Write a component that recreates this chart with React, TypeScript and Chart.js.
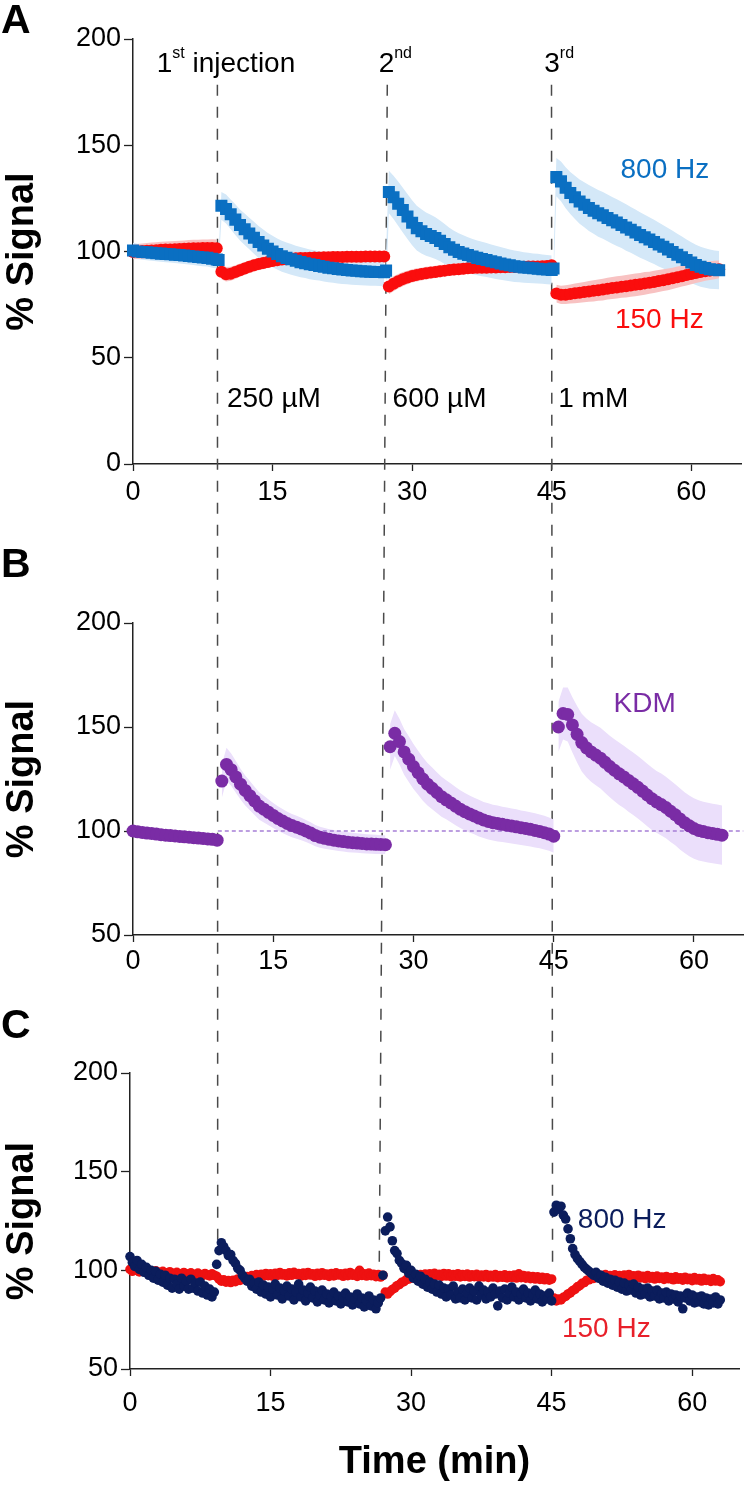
import React, { useEffect, useRef } from "react";
import { Chart, registerables } from "chart.js";

Chart.register(...registerables);

const FAMILY = '"Liberation Sans", Arial, Helvetica, sans-serif';
Chart.defaults.font.family = FAMILY;

// ---------- time grid (min) of each averaged segment between injections (panels A, B) ----------
const T_SEG1 = [0, 0.5, 1, 1.5, 2, 2.5, 3, 3.5, 4, 4.5, 5, 5.5, 6, 6.5, 7, 7.5, 8, 8.5, 9];
const T_SEG2 = [9.5, 10, 10.5, 11, 11.5, 12, 12.5, 13, 13.5, 14, 14.5, 15, 15.5, 16, 16.5, 17, 17.5, 18, 18.5, 19, 19.5, 20, 20.5, 21, 21.5, 22, 22.5, 23, 23.5, 24, 24.5, 25, 25.5, 26, 26.5, 27];
const T_SEG3 = [27.5, 28, 28.5, 29, 29.5, 30, 30.5, 31, 31.5, 32, 32.5, 33, 33.5, 34, 34.5, 35, 35.5, 36, 36.5, 37, 37.5, 38, 38.5, 39, 39.5, 40, 40.5, 41, 41.5, 42, 42.5, 43, 43.5, 44, 44.5, 45];
const T_SEG4 = [45.5, 46, 46.5, 47, 47.5, 48, 48.5, 49, 49.5, 50, 50.5, 51, 51.5, 52, 52.5, 53, 53.5, 54, 54.5, 55, 55.5, 56, 56.5, 57, 57.5, 58, 58.5, 59, 59.5, 60, 60.5, 61, 61.5, 62, 62.5, 63];
const SEG_T = [T_SEG1, T_SEG2, T_SEG3, T_SEG4];

// ---------- time grid (min) of the single-sensor recording (panel C) ----------
const TC_SEG1 = [0, 0.25, 0.5, 0.75, 1, 1.25, 1.5, 1.75, 2, 2.25, 2.5, 2.75, 3, 3.25, 3.5, 3.75, 4, 4.25, 4.5, 4.75, 5, 5.25, 5.5, 5.75, 6, 6.25, 6.5, 6.75, 7, 7.25, 7.5, 7.75, 8, 8.25, 8.5, 8.75, 9];
const TC_SEG2 = [9.25, 9.5, 9.75, 10, 10.25, 10.5, 10.75, 11, 11.25, 11.5, 11.75, 12, 12.25, 12.5, 12.75, 13, 13.25, 13.5, 13.75, 14, 14.25, 14.5, 14.75, 15, 15.25, 15.5, 15.75, 16, 16.25, 16.5, 16.75, 17, 17.25, 17.5, 17.75, 18, 18.25, 18.5, 18.75, 19, 19.25, 19.5, 19.75, 20, 20.25, 20.5, 20.75, 21, 21.25, 21.5, 21.75, 22, 22.25, 22.5, 22.75, 23, 23.25, 23.5, 23.75, 24, 24.25, 24.5, 24.75, 25, 25.25, 25.5, 25.75, 26, 26.25, 26.5, 26.75, 27];
const TC_SEG3 = [27.25, 27.5, 27.75, 28, 28.25, 28.5, 28.75, 29, 29.25, 29.5, 29.75, 30, 30.25, 30.5, 30.75, 31, 31.25, 31.5, 31.75, 32, 32.25, 32.5, 32.75, 33, 33.25, 33.5, 33.75, 34, 34.25, 34.5, 34.75, 35, 35.25, 35.5, 35.75, 36, 36.25, 36.5, 36.75, 37, 37.25, 37.5, 37.75, 38, 38.25, 38.5, 38.75, 39, 39.25, 39.5, 39.75, 40, 40.25, 40.5, 40.75, 41, 41.25, 41.5, 41.75, 42, 42.25, 42.5, 42.75, 43, 43.25, 43.5, 43.75, 44, 44.25, 44.5, 44.75, 45];
const TC_SEG4 = [45.25, 45.5, 45.75, 46, 46.25, 46.5, 46.75, 47, 47.25, 47.5, 47.75, 48, 48.25, 48.5, 48.75, 49, 49.25, 49.5, 49.75, 50, 50.25, 50.5, 50.75, 51, 51.25, 51.5, 51.75, 52, 52.25, 52.5, 52.75, 53, 53.25, 53.5, 53.75, 54, 54.25, 54.5, 54.75, 55, 55.25, 55.5, 55.75, 56, 56.25, 56.5, 56.75, 57, 57.25, 57.5, 57.75, 58, 58.25, 58.5, 58.75, 59, 59.25, 59.5, 59.75, 60, 60.25, 60.5, 60.75, 61, 61.25, 61.5, 61.75, 62, 62.25, 62.5, 62.75, 63];
const SEG_TC = [TC_SEG1, TC_SEG2, TC_SEG3, TC_SEG4];

// ---------- axes ----------
const X_TICKS = [0, 15, 30, 45, 60];
const Y_TICKS_A = [0, 50, 100, 150, 200];
const Y_TICKS_BC = [50, 100, 150, 200];

// ---------- injections (dashed guides) ----------
const INJ_T_TOP = [9.07, 27.33, 44.98]; // panel A time where guides start
const INJ_V_TOP = 178.5; // panel A value where guides start
const INJ_T_END = [9.36, 26.6, 45.1]; // panel C time where guides end
const INJ_V_END = [115.4, 100.2, 101]; // panel C value where guides end

// ---------- Panel A : 800 Hz (mean, SEM) ----------
const A800 = [
  [100.5, 100, 99.8, 99.6, 99.4, 99.2, 99, 98.8, 98.7, 98.5, 98.3, 98.1, 97.9, 97.6, 97.4, 97.2, 97, 96.6, 96.2],
  [121.5, 120, 117.5, 115, 112.5, 110.5, 108.5, 106.5, 104.5, 102.8, 101.3, 100, 98.8, 97.8, 97, 96.3, 95.6, 95, 94.5, 94, 93.6, 93.2, 92.8, 92.4, 92.1, 91.8, 91.5, 91.3, 91.1, 90.9, 90.7, 90.6, 90.5, 90.4, 90.3, 90.2],
  [128, 125.5, 122.5, 119.5, 116.5, 113.5, 111, 109.5, 108.2, 107.3, 106.3, 105, 103.5, 102, 100.8, 99.8, 99, 98.3, 97.6, 97, 96.5, 96, 95.4, 94.9, 94.4, 93.9, 93.5, 93.1, 92.8, 92.5, 92.3, 92.1, 91.9, 91.7, 91.5, 91.3],
  [135, 133, 130, 127.5, 125.5, 123.5, 122, 120.5, 119.2, 118, 117, 115.8, 114.7, 113.6, 112.5, 111.3, 110.2, 109, 107.8, 106.7, 105.6, 104.5, 103.3, 102.2, 101, 99.8, 98.5, 97.3, 96, 94.8, 93.7, 92.8, 92.2, 91.7, 91.4, 91.2],
];
const A800_SEM = [
  [3.6, 3.6, 3.7, 3.7, 3.8, 3.8, 3.8, 3.9, 3.9, 3.9, 4, 4, 4, 4, 4.1, 4.1, 4.1, 4.2, 4.2],
  [6.5, 6.8, 7, 7.2, 7.3, 7.4, 7.4, 7.5, 7.5, 7.5, 7.4, 7.4, 7.3, 7.3, 7.2, 7.2, 7.1, 7.1, 7, 7, 7, 6.9, 6.9, 6.9, 6.8, 6.8, 6.8, 6.7, 6.7, 6.7, 6.6, 6.6, 6.6, 6.5, 6.5, 6.5],
  [10, 10.2, 10.4, 10.5, 10.6, 10.6, 10.5, 10.4, 10.2, 10, 9.8, 9.6, 9.4, 9.2, 9, 8.8, 8.6, 8.4, 8.3, 8.2, 8.1, 8, 7.9, 7.8, 7.7, 7.6, 7.5, 7.4, 7.3, 7.2, 7.1, 7, 7, 6.9, 6.9, 6.8],
  [9, 9.3, 9.6, 9.9, 10.2, 10.4, 10.6, 10.8, 10.9, 11, 11, 11, 11, 11, 10.9, 10.9, 10.8, 10.8, 10.7, 10.6, 10.5, 10.4, 10.3, 10.2, 10.1, 10, 9.9, 9.8, 9.7, 9.6, 9.5, 9.4, 9.3, 9.2, 9.1, 9],
];
// first (transition) sample recorded right after each injection, before the jump
const A800_LEAD_T = [9.2, 27.2, 45.2];
const A800_LEAD = [96, 91, 92];
const A800_LEAD_SEM = [3, 10, 6];

// ---------- Panel A : 150 Hz (mean, SEM) ----------
const A150 = [
  [99.8, 100, 100.2, 100.4, 100.5, 100.6, 100.8, 100.9, 101, 101.1, 101.2, 101.3, 101.4, 101.5, 101.5, 101.6, 101.6, 101.7, 101.5],
  [90.5, 89.3, 89.5, 90.3, 91.2, 92, 92.8, 93.5, 94.1, 94.6, 95.1, 95.5, 95.9, 96.2, 96.4, 96.6, 96.8, 96.9, 97, 97.1, 97.2, 97.2, 97.3, 97.3, 97.4, 97.4, 97.4, 97.5, 97.5, 97.5, 97.5, 97.6, 97.6, 97.6, 97.7, 97.7],
  [83.5, 84.8, 86, 87, 87.8, 88.5, 89, 89.4, 89.8, 90.1, 90.4, 90.7, 91, 91.3, 91.5, 91.7, 91.9, 92.1, 92.2, 92.3, 92.4, 92.4, 92.5, 92.5, 92.6, 92.6, 92.7, 92.7, 92.8, 92.8, 92.9, 93, 93, 93.1, 93.2, 93.5],
  [80.2, 79.6, 79.7, 80, 80.3, 80.6, 80.9, 81.2, 81.5, 81.8, 82.1, 82.5, 82.8, 83.1, 83.4, 83.7, 84, 84.3, 84.6, 85, 85.3, 85.7, 86.1, 86.5, 86.9, 87.4, 87.9, 88.4, 88.9, 89.4, 89.9, 90.3, 90.7, 91, 91.3, 91.6],
];
const A150_SEM = [
  [3.5, 3.5, 3.6, 3.6, 3.7, 3.7, 3.8, 3.8, 3.8, 3.9, 3.9, 3.9, 4, 4, 4, 4, 4.1, 4.1, 4.1],
  [3.5, 3.4, 3.3, 3.2, 3.1, 3.1, 3, 3, 2.9, 2.9, 2.9, 2.8, 2.8, 2.8, 2.7, 2.7, 2.7, 2.7, 2.7, 2.6, 2.6, 2.6, 2.6, 2.6, 2.6, 2.5, 2.5, 2.5, 2.5, 2.5, 2.5, 2.5, 2.5, 2.5, 2.5, 2.5],
  [3.6, 3.5, 3.4, 3.3, 3.2, 3.1, 3.1, 3, 3, 2.9, 2.9, 2.9, 2.8, 2.8, 2.8, 2.8, 2.7, 2.7, 2.7, 2.7, 2.7, 2.6, 2.6, 2.6, 2.6, 2.6, 2.6, 2.6, 2.6, 2.6, 2.6, 2.6, 2.6, 2.6, 2.6, 2.7],
  [4.2, 4.3, 4.4, 4.5, 4.6, 4.7, 4.8, 4.9, 5, 5, 5.1, 5.1, 5.2, 5.2, 5.2, 5.3, 5.3, 5.3, 5.3, 5.3, 5.2, 5.2, 5.2, 5.1, 5.1, 5, 5, 4.9, 4.9, 4.8, 4.7, 4.6, 4.5, 4.4, 4.3, 4.2],
];

// ---------- Panel B : KDM (mean, SEM) ----------
const KDM = [
  [100, 99.6, 99.3, 99, 98.8, 98.5, 98.2, 98, 97.8, 97.6, 97.4, 97.2, 97, 96.8, 96.6, 96.4, 96.2, 96, 95.6],
  [124, 132, 129.5, 126, 122.5, 119.5, 117, 114.5, 112, 110.5, 109, 107.5, 106, 104.8, 103.6, 102.6, 101.8, 101, 100, 99, 97.8, 97, 96.5, 96, 95.6, 95.2, 94.9, 94.6, 94.4, 94.2, 94, 93.8, 93.7, 93.6, 93.5, 93.4],
  [140.5, 147, 143, 138, 134.5, 131, 128, 125, 122.5, 120.5, 118.5, 116.5, 115, 113.5, 112, 110.5, 109.3, 108.2, 107.2, 106.2, 105.3, 104.6, 104, 103.6, 103.2, 102.8, 102.4, 102, 101.6, 101.2, 100.8, 100.3, 99.8, 99.2, 98.5, 97.5],
  [150, 156.5, 156, 151, 146.5, 142.5, 140, 138, 136.5, 135, 133, 131, 129.2, 127.5, 126, 124.3, 122.7, 121, 119.2, 117.3, 115.5, 114, 112.7, 111.3, 109.5, 107.8, 105.8, 104, 102.5, 101.2, 100.3, 99.7, 99.2, 98.8, 98.4, 98],
];
const KDM_SEM = [
  [2.5, 2.5, 2.5, 2.6, 2.6, 2.6, 2.7, 2.7, 2.7, 2.8, 2.8, 2.8, 2.9, 2.9, 2.9, 3, 3, 3, 3],
  [8, 8, 7.8, 7.6, 7.4, 7.2, 7, 6.8, 6.6, 6.4, 6.2, 6, 5.9, 5.8, 5.7, 5.6, 5.5, 5.4, 5.3, 5.2, 5.1, 5, 5, 4.9, 4.9, 4.8, 4.8, 4.8, 4.7, 4.7, 4.7, 4.6, 4.6, 4.6, 4.5, 4.5],
  [11, 11, 11, 11, 11, 10.8, 10.6, 10.4, 10.2, 10, 9.8, 9.6, 9.4, 9.3, 9.2, 9.1, 9, 8.9, 8.8, 8.8, 8.7, 8.7, 8.6, 8.6, 8.5, 8.5, 8.4, 8.4, 8.3, 8.3, 8.2, 8.2, 8.1, 8.1, 8, 8],
  [12, 12.5, 13, 13.3, 13.6, 13.9, 14.1, 14.3, 14.5, 14.6, 14.7, 14.8, 14.9, 15, 15, 15, 15, 15, 15, 15, 15, 14.9, 14.9, 14.8, 14.8, 14.7, 14.7, 14.6, 14.6, 14.5, 14.5, 14.4, 14.4, 14.3, 14.3, 14.2],
];
const KDM_BASELINE = 100;

// ---------- Panel C : single sensor, 800 Hz ----------
const C800 = [
  [107, 104, 102, 105, 100.5, 103, 99, 101.5, 97.5, 100, 96, 99.5, 95, 98, 94, 97.5, 92.5, 96, 91, 95.5, 93, 90.5, 96, 92, 94.5, 90.5, 95.5, 91, 93.5, 89.5, 94, 88.5, 92, 87.5, 90.5, 86.5, 89],
  [103, 110, 114, 112, 110, 107.5, 108, 105, 103.5, 101, 100, 97.5, 96, 94.5, 95.5, 92, 93.5, 90.5, 94, 89, 92.5, 88, 91.5, 86.5, 90.5, 93, 87.5, 91, 85.5, 89.5, 92, 87, 90.5, 85, 89, 93, 86.5, 90, 84.5, 88.5, 91.5, 86, 89.5, 84, 87.5, 90, 85, 88, 83.5, 86.5, 89, 84.5, 87, 83, 86, 88.5, 84, 86.5, 82.5, 85.5, 88, 83, 86, 81.5, 84.5, 87, 82, 85, 80.5, 83.5, 86, 97.5],
  [120, 127, 122, 115, 110, 108.5, 105, 103.5, 101, 102.5, 98.5, 100, 96, 98, 94.5, 97, 93, 95.5, 91.5, 94, 90.5, 93, 89, 92.5, 88, 91, 86.5, 90.5, 87.5, 92, 85.5, 89, 86, 90.5, 85, 88.5, 91, 86, 89.5, 85, 92, 87.5, 90, 85.5, 89, 86.5, 91, 88, 82, 89.5, 86, 90.5, 85, 88.5, 91.5, 86.5, 89, 85, 88, 90.5, 86, 88.5, 84.5, 87.5, 90, 85.5, 88, 84, 87, 85.5, 88.5, 84.5],
  [129.5, 133, 131, 132.5, 128, 126, 121, 116, 111, 108, 106, 104.5, 103, 101.5, 100.5, 99.5, 98.5, 97.5, 99, 96, 97.5, 94.5, 96.5, 93.5, 95.5, 92.5, 95, 91.5, 94, 90.5, 93.5, 89.5, 92.5, 90, 93, 88.5, 91.5, 87.5, 90.5, 88, 91, 86.5, 89.5, 87, 90, 85.5, 88.5, 86, 89, 84.5, 88, 85.5, 87.5, 84, 87, 80.5, 86, 88.5, 84.5, 87.5, 83.5, 86.5, 84, 87, 83, 86, 82.5, 85.5, 83.5, 86.5, 83, 85],
];
// ---------- Panel C : single sensor, 150 Hz ----------
const C150 = [
  [100.5, 99.5, 101, 100, 99.2, 100.4, 99.6, 98.8, 100, 99.2, 98.6, 99.8, 99, 98.4, 99.5, 98.7, 98.2, 99.3, 98.5, 97.9, 99, 98.3, 97.8, 98.9, 98.2, 97.6, 98.7, 98, 97.5, 98.6, 97.9, 97.3, 98.4, 97.7, 97.2, 98.2, 97.5],
  [97, 95.5, 94.5, 95.2, 94, 94.8, 93.8, 95, 94.3, 95.6, 94.9, 96.3, 95.5, 96.8, 96, 97.3, 96.5, 97.8, 96.9, 98, 97.1, 98.4, 97.3, 98.2, 97, 98.5, 97.4, 98.9, 97.6, 98.3, 97.2, 98.7, 97.5, 99, 97.8, 98.4, 97.1, 98.6, 97.4, 98.9, 97.6, 98.2, 97, 98.5, 97.3, 98.8, 97.5, 98.1, 96.9, 98.4, 97.2, 98.7, 97.6, 98.2, 97, 98.5, 97.3, 98.9, 97.5, 98.1, 96.9, 100, 97.4, 98.3, 97.1, 98.6, 97.3, 98, 96.8, 97.9, 96.6, 97.5],
  [89, 88, 89.2, 90.3, 91, 92.2, 92.8, 93.9, 94.3, 95.3, 95.6, 96.4, 96.1, 97.2, 96.6, 97.8, 96.9, 98.1, 97, 98.3, 97.2, 98.5, 97.3, 98, 96.9, 98.4, 97.1, 98.2, 96.8, 97.9, 97, 98.3, 96.7, 97.8, 96.9, 98.1, 96.6, 97.7, 96.8, 98, 96.5, 97.6, 96.7, 97.9, 96.4, 97.5, 96.6, 97.8, 96.3, 97.4, 96.5, 97.7, 96.2, 97.3, 96.4, 97.6, 96.1, 98.2, 96.3, 97.4, 96, 97.1, 95.8, 96.9, 95.6, 96.7, 95.4, 96.5, 95.2, 96.2, 95, 95.6],
  [86, 84.5, 85.5, 85, 86.3, 86.8, 88, 88.6, 89.7, 90.4, 91.6, 92.2, 93.4, 93.8, 95, 95.2, 96.3, 95.9, 97, 96.3, 97.5, 96.5, 97.8, 96.6, 97.4, 96.2, 97.7, 96.5, 97.3, 96.1, 97.6, 96.4, 97.9, 96.3, 97.2, 96, 97.5, 96.2, 97, 95.8, 97.3, 96, 96.8, 95.6, 97.1, 95.9, 96.6, 95.4, 96.9, 95.7, 96.4, 95.2, 96.7, 95.5, 96.2, 95, 96.5, 95.3, 96, 94.8, 96.3, 95.1, 95.8, 94.6, 96, 94.9, 95.5, 94.4, 95.8, 94.6, 95.2, 94.3],
];

// ---------- colours ----------
const BLUE = "#0a6fc2";
const BLUE_BAND = "#d4e8f8";
const RED = "#fa0d0d";
const RED_BAND = "#f8c2c2";
const PURPLE = "#7a2ca5";
const PURPLE_BAND = "#ebdffb";
const NAVY = "#0b1d5c";
const RED_C = "#ee1111";
const AXIS = "#222";
const GUIDE = "#4a4a4a";

// ---------- page layout ----------
const W = 750;
const LAYOUT = [
  { top: 0, height: 510, padTop: 39, padRight: 2, yWidth: 133, xHeight: 46, xMax: 65.4, yMin: 0, yMax: 200, tickPad: 5, letter: "A", letterY: 33 },
  { top: 510, height: 475, padTop: 113, padRight: 2, yWidth: 133, xHeight: 50, xMax: 65.3, yMin: 50, yMax: 200, tickPad: 3, letter: "B", letterY: 67 },
  { top: 985, height: 501, padTop: 88, padRight: 11, yWidth: 130, xHeight: 117, xMax: 65.0, yMin: 50, yMax: 200, tickPad: 11, letter: "C", letterY: 53 },
];

type Part = { s: string; size: number; rise?: number };
type Note = { parts: Part[]; t: number; v: number; color: string };

const sup = (a: string, b: string): Part[] => [
  { s: a, size: 28 },
  { s: b, size: 16, rise: 14 },
];

const NOTES: Note[][] = [
  [
    { parts: [...sup("1", "st"), { s: " injection", size: 28 }], t: 2.55, v: 184.5, color: "#000" },
    { parts: sup("2", "nd"), t: 26.4, v: 184.5, color: "#000" },
    { parts: sup("3", "rd"), t: 44.2, v: 184.5, color: "#000" },
    { parts: [{ s: "250 µM", size: 28 }], t: 10.1, v: 26.8, color: "#000" },
    { parts: [{ s: "600 µM", size: 28 }], t: 27.9, v: 26.8, color: "#000" },
    { parts: [{ s: "1 mM", size: 28 }], t: 45.7, v: 26.8, color: "#000" },
    { parts: [{ s: "800 Hz", size: 28 }], t: 52.4, v: 134.6, color: BLUE },
    { parts: [{ s: "150 Hz", size: 28 }], t: 51.8, v: 64, color: RED },
  ],
  [{ parts: [{ s: "KDM", size: 28 }], t: 51.4, v: 157.2, color: PURPLE }],
  [
    { parts: [{ s: "800 Hz", size: 28 }], t: 47.8, v: 121.5, color: NAVY },
    { parts: [{ s: "150 Hz", size: 28 }], t: 46.1, v: 66.2, color: "#e8202a" },
  ],
];

// ---------- helpers ----------
type Lead = { t: number[]; v: number[]; sem: number[] };

function series(times: number[][], values: number[][], sem?: number[][], sign = 0, lead?: Lead) {
  const out: { x: number; y: number | null }[] = [];
  times.forEach((ts, s) => {
    if (s > 0) {
      const prev = times[s - 1];
      const gapX = lead ? (prev[prev.length - 1] + lead.t[s - 1]) / 2 : (prev[prev.length - 1] + ts[0]) / 2;
      out.push({ x: gapX, y: null });
      if (lead) {
        const v = lead.v[s - 1];
        out.push({ x: lead.t[s - 1], y: sem ? v + sign * lead.sem[s - 1] : v });
      }
    }
    ts.forEach((t, i) => {
      const v = values[s][i];
      out.push({ x: t, y: sem ? v + sign * sem[s][i] : v });
    });
  });
  return out;
}

function points(data: any[], color: string, radius: number, style: string, order: number) {
  return {
    data,
    showLine: false,
    pointRadius: radius,
    pointHoverRadius: radius,
    pointStyle: style,
    pointBackgroundColor: color,
    pointBorderColor: color,
    pointBorderWidth: 0,
    borderColor: color,
    backgroundColor: color,
    order,
    clip: 12,
  };
}

function band(values: number[][], sem: number[][], color: string, order: number, lead?: Lead) {
  const base = {
    showLine: true,
    borderWidth: 0,
    borderColor: "rgba(0,0,0,0)",
    pointRadius: 0,
    backgroundColor: color,
    order,
    tension: 0,
    spanGaps: false,
  };
  return [
    { ...base, data: series(SEG_T, values, sem, -1, lead), fill: false },
    { ...base, data: series(SEG_T, values, sem, 1, lead), fill: "-1" },
  ];
}

function scalesFor(L: any, yTicks: number[], xTitle: string | null) {
  const tickFont = { size: 27, family: FAMILY };
  return {
    x: {
      type: "linear",
      min: 0,
      max: L.xMax,
      afterBuildTicks: (s: any) => {
        s.ticks = X_TICKS.map((v) => ({ value: v }));
      },
      afterFit: (s: any) => {
        s.height = L.xHeight;
      },
      grid: { drawOnChartArea: false, drawTicks: true, tickLength: 7, tickWidth: 1.3, tickColor: AXIS },
      border: { display: true, color: AXIS, width: 1.5 },
      ticks: { color: "#000", font: tickFont, padding: L.tickPad, maxRotation: 0, autoSkip: false },
      title: xTitle
        ? { display: true, text: xTitle, color: "#000", font: { size: 38, weight: "bold", family: FAMILY }, padding: { top: 0, bottom: 1 } }
        : { display: false },
    },
    y: {
      type: "linear",
      min: L.yMin,
      max: L.yMax,
      afterBuildTicks: (s: any) => {
        s.ticks = yTicks.map((v) => ({ value: v }));
      },
      afterFit: (s: any) => {
        s.width = L.yWidth;
      },
      grid: { drawOnChartArea: false, drawTicks: true, tickLength: 9, tickWidth: 1.3, tickColor: AXIS },
      border: { display: true, color: AXIS, width: 1.5 },
      ticks: { color: "#000", font: tickFont, padding: 3 },
      title: { display: true, text: "% Signal", color: "#000", font: { size: 38, weight: "bold", family: FAMILY }, padding: { top: 0, bottom: 0 } },
    },
  };
}

type Shared = { lines: { x0: number; y0: number; x1: number; y1: number }[] };

function decorPlugin(idx: number, shared: Shared) {
  const L = LAYOUT[idx];
  return {
    id: "decor" + idx,
    beforeDatasetsDraw(chart: any) {
      const ctx = chart.ctx;
      ctx.save();
      ctx.strokeStyle = GUIDE;
      ctx.lineWidth = 1.5;
      ctx.setLineDash([11, 11]);
      for (const ln of shared.lines) {
        ctx.beginPath();
        ctx.moveTo(ln.x0, ln.y0 - L.top);
        ctx.lineTo(ln.x1, ln.y1 - L.top);
        ctx.stroke();
      }
      ctx.restore();
    },
    afterDatasetsDraw(chart: any) {
      const ctx = chart.ctx;
      const xs = chart.scales.x;
      const ys = chart.scales.y;
      ctx.save();
      ctx.textAlign = "left";
      ctx.textBaseline = "alphabetic";
      for (const n of NOTES[idx]) {
        let cx = xs.getPixelForValue(n.t);
        const by = ys.getPixelForValue(n.v);
        ctx.fillStyle = n.color;
        for (const p of n.parts) {
          ctx.font = `${p.size}px ${FAMILY}`;
          ctx.fillText(p.s, cx, by - (p.rise || 0));
          cx += ctx.measureText(p.s).width;
        }
      }
      ctx.fillStyle = "#000";
      ctx.font = `bold 41px ${FAMILY}`;
      ctx.fillText(L.letter, 1, L.letterY);
      ctx.restore();
    },
  };
}

function datasetsFor(idx: number) {
  const lead: Lead = { t: A800_LEAD_T, v: A800_LEAD, sem: A800_LEAD_SEM };
  if (idx === 0) {
    return [
      points(series(SEG_T, A800, undefined, 0, lead), BLUE, 8.5, "rect", 0),
      points(series(SEG_T, A150), RED, 6, "circle", 1),
      ...band(A150, A150_SEM, RED_BAND, 2),
      ...band(A800, A800_SEM, BLUE_BAND, 3, lead),
    ];
  }
  if (idx === 1) {
    return [
      points(series(SEG_T, KDM), PURPLE, 6.5, "circle", 0),
      {
        data: [
          { x: INJ_T_TOP[0], y: KDM_BASELINE },
          { x: LAYOUT[1].xMax, y: KDM_BASELINE },
        ],
        showLine: true,
        borderColor: "#a77fd6",
        borderWidth: 1.5,
        borderDash: [4, 3],
        pointRadius: 0,
        fill: false,
        order: 1,
      },
      ...band(KDM, KDM_SEM, PURPLE_BAND, 2),
    ];
  }
  return [points(series(SEG_TC, C800), NAVY, 4.8, "circle", 0), points(series(SEG_TC, C150), RED_C, 4.8, "circle", 1)];
}

export default function App() {
  const r0 = useRef<HTMLCanvasElement>(null);
  const r1 = useRef<HTMLCanvasElement>(null);
  const r2 = useRef<HTMLCanvasElement>(null);
  const refs = [r0, r1, r2];

  useEffect(() => {
    const shared: Shared = { lines: [] };
    const charts = LAYOUT.map((L, i) => {
      const canvas = refs[i].current as HTMLCanvasElement;
      return new Chart(canvas, {
        type: "line",
        data: { datasets: datasetsFor(i) as any },
        options: {
          responsive: false,
          maintainAspectRatio: false,
          devicePixelRatio: 1,
          animation: false,
          events: [],
          layout: { padding: { left: 0, right: L.padRight, top: L.padTop, bottom: 0 } },
          plugins: { legend: { display: false }, tooltip: { enabled: false } },
          scales: scalesFor(L, i === 0 ? Y_TICKS_A : Y_TICKS_BC, i === 2 ? "Time (min)" : null) as any,
        },
        plugins: [decorPlugin(i, shared)],
      } as any);
    });
    const a = charts[0];
    const c = charts[2];
    shared.lines = INJ_T_TOP.map((t, i) => ({
      x0: a.scales.x.getPixelForValue(t),
      y0: a.scales.y.getPixelForValue(INJ_V_TOP) + LAYOUT[0].top,
      x1: c.scales.x.getPixelForValue(INJ_T_END[i]),
      y1: c.scales.y.getPixelForValue(INJ_V_END[i]) + LAYOUT[2].top,
    }));
    charts.forEach((ch) => ch.render());
    return () => charts.forEach((ch) => ch.destroy());
  }, []);

  return (
    <div style={{ position: "absolute", left: 0, top: 0, width: W, height: 1486, background: "#fff" }}>
      {LAYOUT.map((L, i) => (
        <canvas
          key={i}
          ref={refs[i]}
          width={W}
          height={L.height}
          style={{ position: "absolute", left: 0, top: L.top, width: W, height: L.height, display: "block" }}
        />
      ))}
    </div>
  );
}
